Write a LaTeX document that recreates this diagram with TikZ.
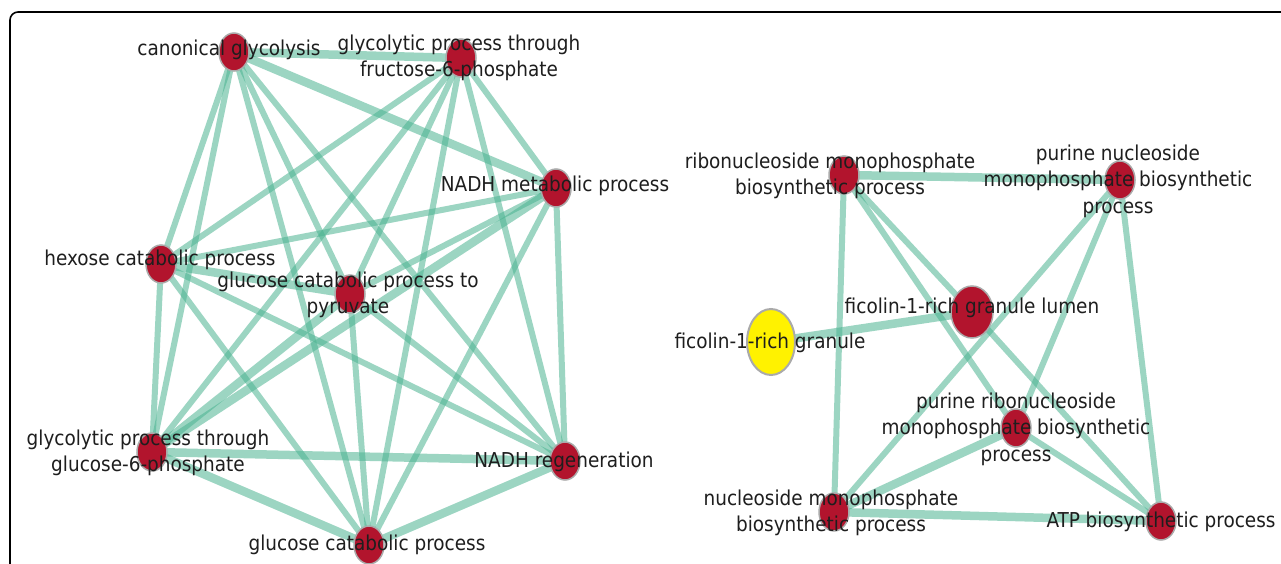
\documentclass[tikz,border=0pt]{standalone}
\usepackage{fontspec}
\setmainfont{DejaVu Sans Condensed}
\usetikzlibrary{shapes.geometric}
\pgfdeclarelayer{bg}
\pgfsetlayers{bg,main}
\definecolor{edgec}{RGB}{75,180,145}
\definecolor{nodered}{RGB}{178,20,45}
\definecolor{rimgray}{RGB}{170,170,170}
\definecolor{txt}{RGB}{30,30,30}
\tikzset{
  rnode/.style={ellipse, fill=nodered, draw=rimgray, line width=1.5pt, minimum width=30pt, minimum height=38pt, inner sep=0pt},
  bignode/.style={rnode, minimum width=42pt, minimum height=52pt},
  ynode/.style={ellipse, fill=yellow, draw=rimgray, line width=2pt, minimum width=48pt, minimum height=66pt, inner sep=0pt},
  lab/.style={text=txt, font=\fontsize{20.5}{26.5}\selectfont, align=center, inner sep=0pt},
  edge/.style={draw=edgec, opacity=0.55, line width=6pt},
  thick edge/.style={draw=edgec, opacity=0.55, line width=8.5pt},
}
\begin{document}
\begin{tikzpicture}[x=1pt,y=-1pt]
\useasboundingbox (0,0) rectangle (1281,564);
\clip (0,0) rectangle (1281,564);
\draw[line width=1.6pt, rounded corners=8pt] (1300,12) -- (10,12) -- (10,600);
% left cluster nodes
\node[rnode] (cg) at (234,52) {};
\node[rnode] (gf) at (461,58) {};
\node[rnode] (nm) at (556,188) {};
\node[rnode] (hc) at (161,264) {};
\node[rnode] (gp) at (350,294) {};
\node[rnode] (gg) at (152,452) {};
\node[rnode] (nr) at (565,461) {};
\node[rnode] (gc) at (369,545) {};
% right cluster nodes
\node[rnode] (rm) at (844,175) {};
\node[rnode] (pn) at (1120,180) {};
\node[bignode] (fl) at (972,312) {};
\node[ynode] (fg) at (771,342) {};
\node[rnode] (pr) at (1016,428) {};
\node[rnode] (nmp) at (834,512) {};
\node[rnode] (atp) at (1161,521) {};
\begin{pgfonlayer}{bg}
\fill[white] (0,0) rectangle (1281,564);
% left cluster: complete graph
\draw[thick edge] (cg.center) -- (gf.center);
\draw[thick edge] (cg.center) -- (nm.center);
\draw[edge] (cg.center) -- (hc.center);
\draw[edge] (cg.center) -- (gp.center);
\draw[edge] (cg.center) -- (gg.center);
\draw[edge] (cg.center) -- (nr.center);
\draw[edge] (cg.center) -- (gc.center);
\draw[edge] (gf.center) -- (nm.center);
\draw[edge] (gf.center) -- (hc.center);
\draw[edge] (gf.center) -- (gp.center);
\draw[edge] (gf.center) -- (gg.center);
\draw[edge] (gf.center) -- (nr.center);
\draw[edge] (gf.center) -- (gc.center);
\draw[edge] (nm.center) -- (hc.center);
\draw[edge] (nm.center) -- (gp.center);
\draw[thick edge] (nm.center) -- (gg.center);
\draw[edge] (nm.center) -- (nr.center);
\draw[edge] (nm.center) -- (gc.center);
\draw[thick edge] (hc.center) -- (gp.center);
\draw[edge] (hc.center) -- (gg.center);
\draw[edge] (hc.center) -- (nr.center);
\draw[edge] (hc.center) -- (gc.center);
\draw[thick edge] (gp.center) -- (gg.center);
\draw[edge] (gp.center) -- (nr.center);
\draw[edge] (gp.center) -- (gc.center);
\draw[thick edge] (gg.center) -- (nr.center);
\draw[thick edge] (gg.center) -- (gc.center);
\draw[thick edge] (nr.center) -- (gc.center);
% right cluster
\draw[thick edge] (rm.center) -- (pn.center);
\draw[edge] (rm.center) -- (fl.center);
\draw[edge] (rm.center) -- (pr.center);
\draw[edge] (rm.center) -- (nmp.center);
\draw[edge] (pn.center) -- (pr.center);
\draw[edge] (pn.center) -- (nmp.center);
\draw[edge] (pn.center) -- (atp.center);
\draw[thick edge] (fg.center) -- (fl.center);
\draw[edge] (fl.center) -- (atp.center);
\draw[thick edge] (pr.center) -- (nmp.center);
\draw[edge] (pr.center) -- (atp.center);
\draw[thick edge] (nmp.center) -- (atp.center);
\end{pgfonlayer}
% labels
\node[lab] at (229,50) {canonical glycolysis};
\node[lab] at (459,58) {glycolytic process through\\fructose-6-phosphate};
\node[lab] at (555,186) {NADH metabolic process};
\node[lab] at (160,260) {hexose catabolic process};
\node[lab] at (348,295) {glucose catabolic process to\\pyruvate};
\node[lab] at (148,453) {glycolytic process through\\glucose-6-phosphate};
\node[lab] at (564,462) {NADH regeneration};
\node[lab] at (367,545) {glucose catabolic process};
\node[lab] at (830,176) {ribonucleoside monophosphate\\biosynthetic process};
\node[lab] at (1118,181) {purine nucleoside\\monophosphate biosynthetic\\process};
\node[lab] at (972,308) {ficolin-1-rich granule lumen};
\node[lab] at (770,343) {ficolin-1-rich granule};
\node[lab] at (1016,429) {purine ribonucleoside\\monophosphate biosynthetic\\process};
\node[lab] at (831,513) {nucleoside monophosphate\\biosynthetic process};
\node[lab] at (1161,522) {ATP biosynthetic process};
\end{tikzpicture}
\end{document}
